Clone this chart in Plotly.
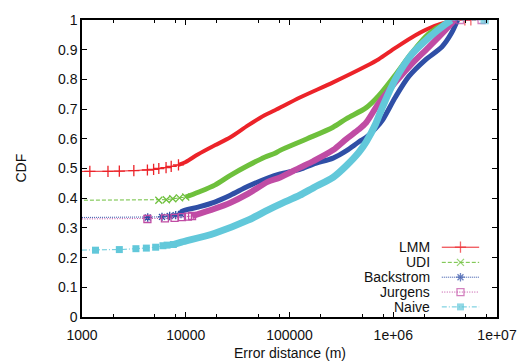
import plotly.graph_objects as go

# ---------------- data ----------------
series_names = ["LMM", "UDI", "Backstrom", "Jurgens", "Naive"]

# sparse leading points (drawn as thin styled line with markers)
lmm_head_x = [800, 1190, 1780, 2290, 3160, 4270, 4900, 5500, 6460, 7240, 8510]
lmm_head_y = [0.49, 0.49, 0.49, 0.491, 0.493, 0.495, 0.497, 0.500, 0.503, 0.507, 0.512]
udi_head_x = [800, 5500, 6500, 7500, 8700, 10000]
udi_head_y = [0.393, 0.393, 0.395, 0.398, 0.401, 0.404]
bac_head_x = [800, 4300, 5900, 7000, 8000, 9000]
bac_head_y = [0.335, 0.335, 0.337, 0.340, 0.343, 0.347]
jur_head_x = [800, 4270, 6300, 7800, 9200, 10500, 11500]
jur_head_y = [0.330, 0.330, 0.332, 0.334, 0.336, 0.338, 0.340]
nai_head_x = [800, 1350, 2290, 3310, 4170, 5130, 6030, 6610, 7590]
nai_head_y = [0.225, 0.225, 0.227, 0.230, 0.232, 0.235, 0.240, 0.242, 0.244]

# dense body of each curve
lmm_x = [8510, 10000, 13180, 19050, 26920, 39810, 57540, 72440, 125900, 263000,
         549500, 724400, 1047000, 1622000, 2512000, 3890000]
lmm_y = [0.512, 0.522, 0.548, 0.578, 0.605, 0.645, 0.679, 0.696, 0.739, 0.790,
         0.845, 0.868, 0.906, 0.948, 0.980, 1.0]
udi_x = [10000, 13180, 19050, 26920, 39810, 57540, 72440, 81280, 147900, 263000,
         354800, 549500, 724400, 1047000, 1514000, 2188000, 3162000, 4169000]
udi_y = [0.404, 0.420, 0.444, 0.477, 0.510, 0.538, 0.551, 0.561, 0.600, 0.639,
         0.668, 0.705, 0.745, 0.815, 0.890, 0.953, 0.988, 1.0]
bac_x = [9000, 9120, 13180, 19050, 26920, 39810, 61660, 81280, 125900, 169800,
         263000, 354800, 467700, 549500, 676100, 794300, 1047000, 1413000, 2042000,
         2951000, 3631000, 4169000]
bac_y = [0.347, 0.355, 0.370, 0.387, 0.410, 0.440, 0.468, 0.482, 0.497, 0.515,
         0.535, 0.560, 0.590, 0.605, 0.635, 0.665, 0.740, 0.810, 0.866,
         0.910, 0.955, 1.0]
jur_x = [11500, 19050, 26920, 39810, 61660, 81280, 125900, 169800, 263000, 354800,
         467700, 549500, 724400, 1047000, 1514000, 2188000, 3162000, 3890000]
jur_y = [0.340, 0.365, 0.385, 0.415, 0.455, 0.470, 0.503, 0.525, 0.562, 0.600,
         0.632, 0.655, 0.720, 0.790, 0.853, 0.908, 0.965, 1.0]
nai_x = [7590, 9120, 19050, 39810, 61660, 81280, 125900, 169800, 263000, 354800,
         467700, 549500, 676100, 794300, 1047000, 1514000, 2188000, 3162000, 3631000]
nai_y = [0.244, 0.252, 0.282, 0.326, 0.360, 0.380, 0.410, 0.435, 0.470, 0.510,
         0.555, 0.590, 0.650, 0.710, 0.800, 0.885, 0.940, 0.985, 1.0]

# trailing points at CDF = 1
lmm_tail_x = [4900000, 5600000]
jur_tail_x = [4400000, 7100000]
nai_tail_x = [7600000]

x_tickvals = [1000, 10000, 100000, 1000000, 10000000]
x_ticktext = ["1000", "10000", "100000", "1e+06", "1e+07"]
x_minor = [2000, 5000, 8000, 20000, 50000, 80000, 200000, 500000, 800000,
           2000000, 5000000, 8000000]
y_tickvals = [0, 0.1, 0.2, 0.3, 0.4, 0.5, 0.6, 0.7, 0.8, 0.9, 1]
y_ticktext = ["0", "0.1", "0.2", "0.3", "0.4", "0.5", "0.6", "0.7", "0.8", "0.9", "1"]

# ---------------- styles ----------------
colors = ["#ec2329", "#6ec03c", "#2f4fa6", "#c04ca4", "#62c8da"]
dashes = ["solid", "4px,2px", "1px,1px", "1px,1.5px", "5px,2px,1px,2px"]
symbols = ["cross-thin-open", "x-thin-open", "asterisk-open", "square-open", "square"]
widths = [4, 5, 5, 6, 7]
msizes = [8, 7, 7, 7, 7]

heads = [(lmm_head_x, lmm_head_y), (udi_head_x, udi_head_y), (bac_head_x, bac_head_y),
         (jur_head_x, jur_head_y), (nai_head_x, nai_head_y)]
bodies = [(lmm_x, lmm_y), (udi_x, udi_y), (bac_x, bac_y), (jur_x, jur_y), (nai_x, nai_y)]
tails = [lmm_tail_x, [], [], jur_tail_x, nai_tail_x]

FONT = "Liberation Sans, Arial, sans-serif"

fig = go.Figure()


def marker_for(i, size):
    filled = symbols[i] == "square"
    return dict(symbol=symbols[i], size=size, color=colors[i],
                line=dict(color=colors[i], width=1.3 if not filled else 0))


for i in range(5):
    hx, hy = heads[i]
    bx, by = bodies[i]
    fig.add_trace(go.Scatter(x=bx, y=by, mode="lines", showlegend=False,
                             line=dict(color=colors[i], width=widths[i], shape="spline",
                                       smoothing=0.8)))
    fig.add_trace(go.Scatter(x=hx, y=hy, mode="lines+markers", showlegend=False,
                             line=dict(color=colors[i], width=1, dash=dashes[i]),
                             marker=marker_for(i, msizes[i])))
    if tails[i]:
        tx = [bx[-1]] + tails[i]
        ty = [by[-1]] + [1.0] * len(tails[i])
        fig.add_trace(go.Scatter(x=tx, y=ty, mode="lines+markers", showlegend=False,
                                 line=dict(color=colors[i], width=1, dash=dashes[i]),
                                 marker=dict(symbol=symbols[i], color=colors[i],
                                             size=[0] + [msizes[i]] * len(tails[i]),
                                             line=dict(color=colors[i], width=1.3))))

# ---------------- custom gnuplot-style key (overlay axes in paper units) ----------------
key_text_x = 0.843
key_line_x0, key_line_x1 = 0.867, 0.957
key_rows = [0.235, 0.184, 0.134, 0.084, 0.034]
annotations = []
for i in range(5):
    yk = key_rows[i]
    fig.add_trace(go.Scatter(x=[key_line_x0, (key_line_x0 + key_line_x1) / 2, key_line_x1],
                             y=[yk, yk, yk], xaxis="x2", yaxis="y2", mode="lines+markers",
                             showlegend=False, hoverinfo="skip",
                             line=dict(color=colors[i], width=1, dash=dashes[i]),
                             marker=dict(symbol=symbols[i], color=colors[i],
                                         size=[0, msizes[i], 0],
                                         line=dict(color=colors[i],
                                                   width=0 if symbols[i] == "square" else 1.3))))
    annotations.append(dict(x=key_text_x, y=yk, xref="paper", yref="paper",
                            text=series_names[i], showarrow=False, xanchor="right",
                            yanchor="middle", font=dict(family=FONT, size=14, color="#111")))

annotations.append(dict(x=0.5, y=0, xref="paper", yref="paper", text="Error distance (m)",
                        showarrow=False, xanchor="center", yanchor="middle", yshift=-36,
                        font=dict(family=FONT, size=14, color="#111")))
annotations.append(dict(x=0, y=0.5, xref="paper", yref="paper", text="CDF", textangle=-90,
                        showarrow=False, xanchor="center", yanchor="middle", xshift=-62,
                        font=dict(family=FONT, size=14, color="#111")))

axis_common = dict(showgrid=False, zeroline=False, showline=True, linecolor="#000",
                   linewidth=1.5, mirror="allticks", ticks="inside", ticklen=5,
                   tickwidth=1, tickcolor="#000",
                   tickfont=dict(family=FONT, size=14, color="#111"))

fig.update_layout(
    width=529, height=361,
    margin=dict(l=82, r=26, t=19, b=44),
    paper_bgcolor="white", plot_bgcolor="white",
    showlegend=False,
    annotations=annotations,
    xaxis=dict(type="log", range=[3, 7], tickvals=x_tickvals, ticktext=x_ticktext,
               minor=dict(tickvals=x_minor, ticks="inside", ticklen=3, tickcolor="#000"),
               ticklabelstandoff=4, **axis_common),
    yaxis=dict(range=[0, 1], tickvals=y_tickvals, ticktext=y_ticktext, **axis_common),
    xaxis2=dict(overlaying="x", range=[0, 1], visible=False, anchor="y2"),
    yaxis2=dict(overlaying="y", range=[0, 1], visible=False, anchor="x2"),
)

fig.write_html("out.html", config={"displayModeBar": False},
               post_script="document.body.style.margin='0';document.body.style.overflow='hidden';")
